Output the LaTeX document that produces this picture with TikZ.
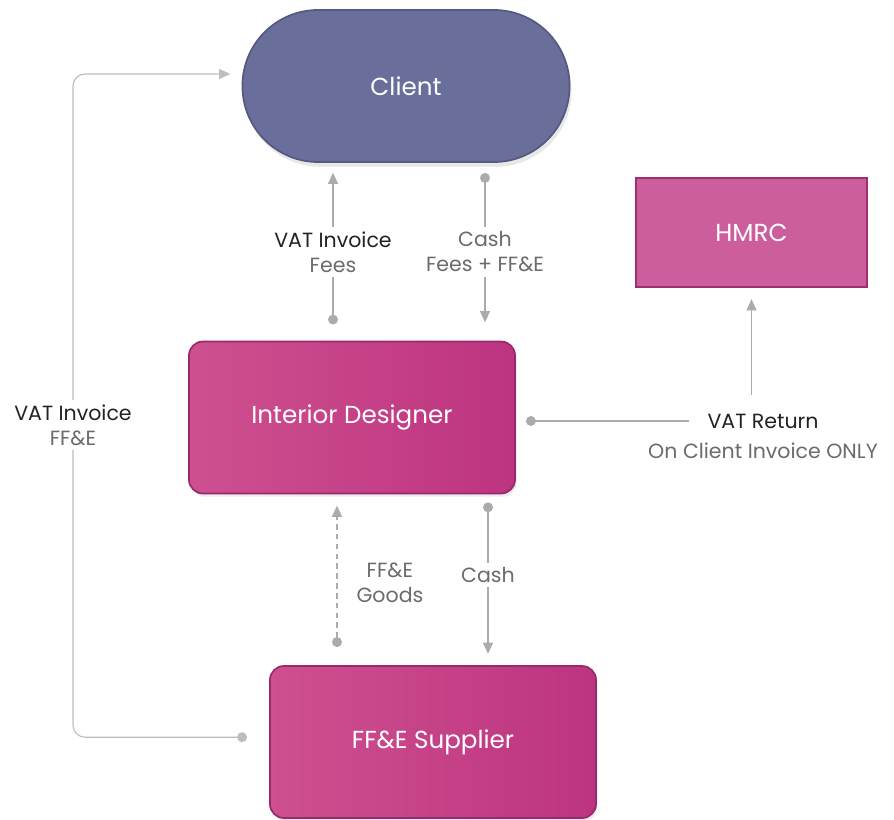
\documentclass[tikz,border=0pt]{standalone}
\usepackage{fontspec}
\setmainfont{Poppins}
\usetikzlibrary{arrows.meta,shadows}
\definecolor{clientfill}{HTML}{6A6E9A}
\definecolor{clientedge}{HTML}{55587F}
\definecolor{hmrcfill}{HTML}{CD5E9D}
\definecolor{hmrcedge}{HTML}{9B2F70}
\definecolor{pinkleft}{HTML}{CE5090}
\definecolor{pinkright}{HTML}{BD3480}
\definecolor{pinkedge}{HTML}{98296C}
\definecolor{linegray}{HTML}{ABABAB}
\definecolor{loopgray}{HTML}{BDBDBD}
\definecolor{labelgray}{HTML}{6B6B6B}
\definecolor{labeldark}{HTML}{222222}
\tikzset{
  party/.style={draw=pinkedge, line width=1.2pt, text=white, font=\fontsize{17.5}{22}\selectfont,
    minimum width=8.15cm, minimum height=3.8cm, rounded corners=0.35cm,
    left color=pinkleft, right color=pinkright,
    drop shadow={opacity=0.15, shadow xshift=0.04cm, shadow yshift=-0.08cm}},
  flow/.style={draw=linegray, line width=1.1pt},
  lbl/.style={text=labelgray, font=\fontsize{14.6}{17.8}\selectfont, align=center, inner sep=3pt},
  tip/.style={-{Triangle[length=8pt,width=7pt]}},
  knob/.style={-{Circle[length=7pt]}}
}
\begin{document}
\begin{tikzpicture}[x=0.025cm,y=-0.025cm]
\useasboundingbox[fill=white] (0,0) rectangle (894,820);

% parties
\node[draw=clientedge, line width=1.2pt, fill=clientfill, text=white, font=\fontsize{17.5}{22}\selectfont,
  minimum width=8.175cm, minimum height=3.8cm, rounded corners=1.89cm,
  drop shadow={opacity=0.18, shadow xshift=0.05cm, shadow yshift=-0.12cm}] (client) at (406,86) {Client};
\node[draw=hmrcedge, line width=1.2pt, fill=hmrcfill, text=white, font=\fontsize{17.5}{22}\selectfont,
  minimum width=5.775cm, minimum height=2.725cm] (hmrc) at (751.5,232.5) {HMRC};
\node[party] (designer) at (352,417.5) {Interior Designer};
\node[party] (supplier) at (433,742) {FF\&E Supplier};

% labels
\node[lbl] (fees) at (333,252) {\textcolor{labeldark}{VAT Invoice}\\Fees};
\node[lbl] (cashtop) at (485,252) {Cash\\Fees + FF\&E};
\node[lbl] (ffe) at (73,425) {\textcolor{labeldark}{VAT Invoice}\\FF\&E};
\node[lbl, text=labeldark] (vatret) at (763,421) {VAT Return};
\node[lbl] (vatnote) at (763,451) {On Client Invoice ONLY};
\node[lbl, anchor=west] (goods) at (352,583) {FF\&E\\Goods};
\node[lbl] (cashlow) at (488,575) {Cash};
\coordinate (goodsline) at (337,575);

% client <-> designer
\draw[flow, tip, shorten >=7pt] (fees) -- (fees |- client.south);
\draw[flow, knob, shorten >=11.5pt] (fees) -- (fees |- designer.north);
\draw[flow, tip, shorten >=13pt] (cashtop) -- (cashtop |- designer.north);
\draw[flow, knob, shorten >=7.2pt] (cashtop) -- (cashtop |- client.south);

% supplier -> client
\draw[draw=loopgray, line width=0.8pt, rounded corners=0.3cm, tip, shorten >=8pt]
  (ffe) |- ([yshift=0.3cm]client.west);
\draw[draw=loopgray, line width=0.8pt, rounded corners=0.3cm, knob, shorten >=15.7pt]
  (ffe) |- ([yshift=0.12cm]supplier.west);

% vat return
\draw[flow, tip, shorten <=10pt, shorten >=8pt] (vatret.north -| hmrc.south) -- (hmrc.south);
\draw[flow, knob, shorten <=10pt, shorten >=7.2pt] (vatret.west) -- (vatret.west -| designer.east);

% designer <-> supplier
\draw[flow, dash pattern=on 4pt off 3pt, {Circle[length=7pt]}-{Triangle[length=8pt,width=7pt]},
  shorten <=12.9pt, shorten >=8pt] (goodsline |- supplier.north) -- (goodsline |- designer.south);
\draw[flow, knob, shorten >=5.7pt] (cashlow) -- (cashlow |- designer.south);
\draw[flow, tip, shorten >=8pt] (cashlow) -- (cashlow |- supplier.north);
\end{tikzpicture}
\end{document}
